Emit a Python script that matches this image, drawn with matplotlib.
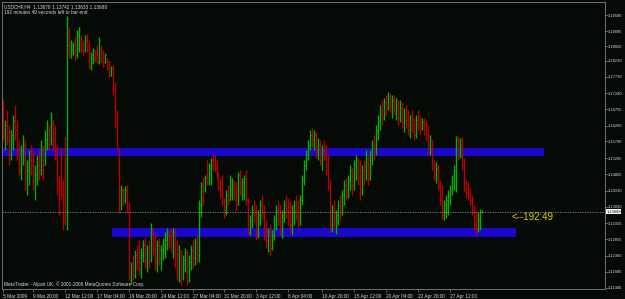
import matplotlib
matplotlib.use('Agg')
import matplotlib.pyplot as plt
import matplotlib.transforms as mtransforms
from matplotlib.patches import Rectangle
import numpy as np

# USDCHF H4 bars (one entry per bar)
opens = [
    1.1673, 1.1598, 1.1628, 1.1583, 1.1538, 1.1598, 1.1643, 1.1613, 1.1553, 1.1493,
    1.1553, 1.1568, 1.1463, 1.1493, 1.1523, 1.1508, 1.1463, 1.1478, 1.1508, 1.1493,
    1.1553, 1.1508, 1.1583, 1.1613, 1.1583, 1.1643, 1.1583, 1.1553, 1.1433, 1.1538,
    1.1418, 1.1553, 1.1358, 1.1898, 1.1838, 1.1853, 1.1883, 1.1838, 1.1859, 1.1889,
    1.1877, 1.1853, 1.1889, 1.1868, 1.1799, 1.1829, 1.1847, 1.1853, 1.1817, 1.1859,
    1.1838, 1.1817, 1.1823, 1.1817, 1.1778, 1.1799, 1.1733, 1.1643, 1.1553, 1.1388,
    1.1433, 1.1403, 1.1433, 1.1388, 1.1163, 1.1208, 1.1178, 1.1238, 1.1217, 1.1193,
    1.1238, 1.1268, 1.1217, 1.1253, 1.1223, 1.1313, 1.1253, 1.1217, 1.1268, 1.1229,
    1.1253, 1.1268, 1.1283, 1.1298, 1.1289, 1.1268, 1.1307, 1.1217, 1.1193, 1.1247,
    1.1169, 1.1223, 1.1247, 1.1163, 1.1217, 1.1253, 1.1229, 1.1277, 1.1238, 1.1388,
    1.1448, 1.1433, 1.1469, 1.1463, 1.1499, 1.1523, 1.1508, 1.1499, 1.1478, 1.1439,
    1.1418, 1.1403, 1.1373, 1.1418, 1.1403, 1.1418, 1.1448, 1.1409, 1.1388, 1.1478,
    1.1433, 1.1418, 1.1469, 1.1403, 1.1307, 1.1343, 1.1373, 1.1358, 1.1298, 1.1358,
    1.1388, 1.1358, 1.1298, 1.1283, 1.1307, 1.1259, 1.1298, 1.1343, 1.1373, 1.1349,
    1.1319, 1.1358, 1.1388, 1.1373, 1.1343, 1.1328, 1.1367, 1.1388, 1.1358, 1.1337,
    1.1403, 1.1463, 1.1508, 1.1538, 1.1568, 1.1598, 1.1583, 1.1598, 1.1553, 1.1568,
    1.1523, 1.1553, 1.1538, 1.1493, 1.1448, 1.1328, 1.1373, 1.1343, 1.1358, 1.1388,
    1.1373, 1.1418, 1.1448, 1.1433, 1.1463, 1.1493, 1.1448, 1.1508, 1.1523, 1.1469,
    1.1433, 1.1493, 1.1478, 1.1538, 1.1478, 1.1538, 1.1568, 1.1553, 1.1613, 1.1643,
    1.1673, 1.1649, 1.1697, 1.1679, 1.1715, 1.1688, 1.1703, 1.1673, 1.1688, 1.1649,
    1.1679, 1.1637, 1.1658, 1.1643, 1.1613, 1.1643, 1.1628, 1.1598, 1.1643, 1.1628,
    1.1619, 1.1637, 1.1613, 1.1598, 1.1547, 1.1583, 1.1508, 1.1478, 1.1499, 1.1448,
    1.1403, 1.1358, 1.1388, 1.1403, 1.1418, 1.1433, 1.1463, 1.1493, 1.1583, 1.1553,
    1.1568, 1.1508, 1.1439, 1.1427, 1.1418, 1.1403, 1.1373, 1.1337, 1.1319, 1.1343,
    1.13678,
]
highs = [
    1.1703, 1.1643, 1.1673, 1.1628, 1.1613, 1.1658, 1.1688, 1.1643, 1.1583, 1.1568,
    1.1598, 1.1583, 1.1523, 1.1553, 1.1568, 1.1553, 1.1508, 1.1538, 1.1553, 1.1583,
    1.1568, 1.1613, 1.1643, 1.1628, 1.1667, 1.1643, 1.1628, 1.1568, 1.1478, 1.1559,
    1.1463, 1.1592, 1.1955, 1.1919, 1.1883, 1.1877, 1.1892, 1.1913, 1.1922, 1.1898,
    1.1883, 1.1898, 1.1901, 1.1883, 1.1847, 1.1859, 1.1853, 1.1868, 1.1892, 1.1868,
    1.1853, 1.1844, 1.1829, 1.1823, 1.1805, 1.1808, 1.1757, 1.1673, 1.1559, 1.1448,
    1.1439, 1.1445, 1.1448, 1.1397, 1.1217, 1.1238, 1.1253, 1.1268, 1.1283, 1.1259,
    1.1283, 1.1289, 1.1268, 1.1283, 1.1334, 1.1319, 1.1298, 1.1283, 1.1289, 1.1268,
    1.1289, 1.1307, 1.1319, 1.1313, 1.1313, 1.1319, 1.1319, 1.1283, 1.1268, 1.1253,
    1.1238, 1.1259, 1.1253, 1.1238, 1.1268, 1.1283, 1.1289, 1.1298, 1.1403, 1.1457,
    1.1472, 1.1478, 1.1523, 1.1514, 1.1529, 1.1538, 1.1538, 1.1523, 1.1487, 1.1469,
    1.1478, 1.1409, 1.1433, 1.1448, 1.1478, 1.1469, 1.1463, 1.1457, 1.1487, 1.1493,
    1.1469, 1.1478, 1.1493, 1.1409, 1.1358, 1.1388, 1.1403, 1.1388, 1.1373, 1.1403,
    1.1418, 1.1388, 1.1343, 1.1319, 1.1328, 1.1313, 1.1358, 1.1388, 1.1403, 1.1388,
    1.1373, 1.1403, 1.1418, 1.1409, 1.1403, 1.1388, 1.1403, 1.1418, 1.1403, 1.1418,
    1.1478, 1.1523, 1.1553, 1.1583, 1.1613, 1.1619, 1.1613, 1.1607, 1.1589, 1.1583,
    1.1568, 1.1583, 1.1568, 1.1538, 1.1463, 1.1388, 1.1403, 1.1373, 1.1403, 1.1418,
    1.1433, 1.1463, 1.1469, 1.1478, 1.1508, 1.1499, 1.1523, 1.1538, 1.1529, 1.1523,
    1.1508, 1.1523, 1.1553, 1.1538, 1.1553, 1.1583, 1.1598, 1.1628, 1.1658, 1.1688,
    1.1703, 1.1709, 1.1718, 1.1727, 1.1724, 1.1718, 1.1718, 1.1709, 1.1703, 1.1703,
    1.1697, 1.1679, 1.1688, 1.1673, 1.1658, 1.1673, 1.1649, 1.1658, 1.1673, 1.1658,
    1.1649, 1.1649, 1.1643, 1.1628, 1.1598, 1.1583, 1.1523, 1.1517, 1.1508, 1.1463,
    1.1448, 1.1403, 1.1418, 1.1433, 1.1448, 1.1478, 1.1508, 1.1595, 1.1595, 1.1589,
    1.1592, 1.1529, 1.1463, 1.1457, 1.1439, 1.1418, 1.1388, 1.1373, 1.1367, 1.1376,
    1.13742,
]
lows = [
    1.1583, 1.1553, 1.1568, 1.1508, 1.1523, 1.1553, 1.1583, 1.1523, 1.1478, 1.1463,
    1.1508, 1.1433, 1.1418, 1.1448, 1.1478, 1.1433, 1.1403, 1.1448, 1.1463, 1.1478,
    1.1463, 1.1508, 1.1553, 1.1553, 1.1568, 1.1553, 1.1523, 1.1418, 1.1358, 1.1403,
    1.1313, 1.1328, 1.1313, 1.1829, 1.1829, 1.1838, 1.1823, 1.1829, 1.1847, 1.1844,
    1.1835, 1.1847, 1.1847, 1.1799, 1.1793, 1.1811, 1.1817, 1.1814, 1.1811, 1.1817,
    1.1802, 1.1814, 1.1793, 1.1772, 1.1775, 1.1718, 1.1619, 1.1553, 1.1364, 1.1373,
    1.1388, 1.1394, 1.1367, 1.1163, 1.1151, 1.1163, 1.1169, 1.1193, 1.1178, 1.1169,
    1.1217, 1.1199, 1.1187, 1.1199, 1.1217, 1.1238, 1.1193, 1.1187, 1.1208, 1.1193,
    1.1223, 1.1229, 1.1253, 1.1259, 1.1247, 1.1229, 1.1199, 1.1163, 1.1157, 1.1148,
    1.1163, 1.1187, 1.1148, 1.1157, 1.1193, 1.1199, 1.1208, 1.1217, 1.1217, 1.1352,
    1.1388, 1.1427, 1.1448, 1.1448, 1.1448, 1.1493, 1.1487, 1.1469, 1.1433, 1.1409,
    1.1388, 1.1349, 1.1358, 1.1388, 1.1403, 1.1403, 1.1403, 1.1373, 1.1388, 1.1418,
    1.1403, 1.1403, 1.1388, 1.1298, 1.1298, 1.1319, 1.1337, 1.1283, 1.1289, 1.1328,
    1.1343, 1.1283, 1.1259, 1.1247, 1.1238, 1.1253, 1.1283, 1.1313, 1.1328, 1.1298,
    1.1289, 1.1337, 1.1349, 1.1328, 1.1307, 1.1298, 1.1328, 1.1343, 1.1319, 1.1328,
    1.1388, 1.1448, 1.1493, 1.1523, 1.1553, 1.1559, 1.1553, 1.1529, 1.1523, 1.1508,
    1.1493, 1.1523, 1.1478, 1.1433, 1.1307, 1.1307, 1.1319, 1.1301, 1.1328, 1.1343,
    1.1358, 1.1388, 1.1403, 1.1409, 1.1433, 1.1418, 1.1433, 1.1463, 1.1448, 1.1403,
    1.1418, 1.1448, 1.1463, 1.1448, 1.1463, 1.1508, 1.1523, 1.1538, 1.1583, 1.1613,
    1.1628, 1.1643, 1.1658, 1.1673, 1.1667, 1.1649, 1.1658, 1.1643, 1.1628, 1.1637,
    1.1619, 1.1607, 1.1619, 1.1598, 1.1589, 1.1607, 1.1583, 1.1589, 1.1613, 1.1598,
    1.1613, 1.1598, 1.1583, 1.1538, 1.1538, 1.1493, 1.1463, 1.1454, 1.1433, 1.1388,
    1.1343, 1.1343, 1.1349, 1.1358, 1.1388, 1.1418, 1.1433, 1.1427, 1.1523, 1.1529,
    1.1493, 1.1427, 1.1409, 1.1403, 1.1388, 1.1358, 1.1313, 1.1298, 1.1307, 1.1313,
    1.13633,
]
closes = [
    1.1598, 1.1628, 1.1583, 1.1538, 1.1598, 1.1643, 1.1613, 1.1553, 1.1493, 1.1553,
    1.1568, 1.1463, 1.1493, 1.1523, 1.1508, 1.1463, 1.1478, 1.1508, 1.1493, 1.1553,
    1.1493, 1.1583, 1.1613, 1.1583, 1.1649, 1.1583, 1.1553, 1.1433, 1.1388, 1.1418,
    1.1343, 1.1358, 1.1868, 1.1838, 1.1868, 1.1868, 1.1829, 1.1898, 1.1913, 1.1853,
    1.1841, 1.1883, 1.1853, 1.1808, 1.1838, 1.1853, 1.1823, 1.1823, 1.1883, 1.1829,
    1.1808, 1.1838, 1.1799, 1.1778, 1.1799, 1.1733, 1.1628, 1.1568, 1.1388, 1.1433,
    1.1403, 1.1433, 1.1379, 1.1193, 1.1208, 1.1178, 1.1238, 1.1217, 1.1193, 1.1238,
    1.1268, 1.1217, 1.1253, 1.1217, 1.1319, 1.1253, 1.1217, 1.1268, 1.1229, 1.1253,
    1.1268, 1.1283, 1.1298, 1.1289, 1.1268, 1.1307, 1.1217, 1.1193, 1.1253, 1.1169,
    1.1223, 1.1247, 1.1163, 1.1217, 1.1253, 1.1229, 1.1277, 1.1253, 1.1388, 1.1448,
    1.1403, 1.1469, 1.1457, 1.1505, 1.1523, 1.1508, 1.1499, 1.1478, 1.1439, 1.1418,
    1.1403, 1.1358, 1.1418, 1.1397, 1.1463, 1.1448, 1.1409, 1.1388, 1.1478, 1.1433,
    1.1457, 1.1469, 1.1403, 1.1307, 1.1343, 1.1373, 1.1358, 1.1298, 1.1358, 1.1388,
    1.1358, 1.1298, 1.1283, 1.1307, 1.1253, 1.1298, 1.1343, 1.1373, 1.1349, 1.1319,
    1.1358, 1.1388, 1.1373, 1.1343, 1.1328, 1.1367, 1.1388, 1.1358, 1.1337, 1.1403,
    1.1463, 1.1508, 1.1538, 1.1568, 1.1598, 1.1583, 1.1598, 1.1553, 1.1568, 1.1523,
    1.1553, 1.1538, 1.1493, 1.1448, 1.1328, 1.1373, 1.1343, 1.1358, 1.1388, 1.1373,
    1.1418, 1.1448, 1.1433, 1.1463, 1.1493, 1.1448, 1.1508, 1.1523, 1.1469, 1.1433,
    1.1493, 1.1478, 1.1538, 1.1463, 1.1538, 1.1568, 1.1553, 1.1613, 1.1643, 1.1673,
    1.1649, 1.1697, 1.1679, 1.1715, 1.1688, 1.1703, 1.1673, 1.1688, 1.1649, 1.1679,
    1.1637, 1.1658, 1.1643, 1.1613, 1.1643, 1.1628, 1.1598, 1.1643, 1.1628, 1.1619,
    1.1637, 1.1613, 1.1598, 1.1553, 1.1583, 1.1508, 1.1478, 1.1499, 1.1448, 1.1403,
    1.1358, 1.1388, 1.1403, 1.1418, 1.1433, 1.1463, 1.1493, 1.1583, 1.1553, 1.1568,
    1.1508, 1.1439, 1.1427, 1.1418, 1.1403, 1.1373, 1.1337, 1.1319, 1.1343, 1.1367,
    1.13688,
]

price_labels = ['1.19580', '1.19095', '1.18650', '1.18210', '1.17730', '1.17240',
                '1.16755', '1.16260', '1.15790', '1.15285', '1.14805', '1.14310',
                '1.13830', '1.13335', '1.12855', '1.12360', '1.11880', '1.11400']
date_labels = ['5 Mar 2009', '9 Mar 20:00', '12 Mar 12:00', '17 Mar 04:00',
               '19 Mar 20:00', '24 Mar 12:00', '27 Mar 04:00', '31 Mar 20:00',
               '3 Apr 12:00', '8 Apr 04:00', '10 Apr 20:00', '15 Apr 12:00',
               '20 Apr 04:00', '22 Apr 20:00', '27 Apr 12:00']
date_bars = [0, 15, 31, 47, 63, 79, 95, 111, 127, 143, 160, 176, 192, 208, 224]

# support / resistance rectangles: (first bar, last bar, low price, high price)
zones = [(-0.5, 271, 1.1535, 1.1559),
         (54.6, 257, 1.1292, 1.1319)]

bid = 1.13688
timer_text = '<--192:49'
header_1 = 'USDCHF,H4  1.13678 1.13742 1.13633 1.13688'
header_2 = '192 minutes 49 seconds left to bar end'
copyright_text = 'MetaTrader - Alpari UK, \u00a9 2001-2008 MetaQuotes Software Corp.'

bg = '#050a07'
up_col = '#00b400'
dn_col = '#b80000'
axis_col = '#808080'
txt_col = '#d8d8d8'
small = 3.4
yfont = 2.9

plt.rcParams['font.family'] = ['Liberation Sans', 'DejaVu Sans']

fig = plt.figure(figsize=(6.25, 2.99), dpi=100, facecolor=bg)
ax = fig.add_axes([2 / 625, 10 / 299, 603 / 625, 287 / 299])
ax.set_facecolor(bg)

o = np.array(opens)
h = np.array(highs)
l = np.array(lows)
c = np.array(closes)
x = np.arange(len(o))
cols = np.where(c >= o, up_col, dn_col)

for x0, x1, p0, p1 in zones:
    ax.add_patch(Rectangle((x0, p0), x1 - x0, p1 - p0, facecolor='#1a06cc',
                           edgecolor='none', zorder=1))

ax.vlines(x, l, h, colors=cols, lw=0.95, zorder=2)
ax.hlines(o, x - 0.5, x, colors=cols, lw=0.6, zorder=2)
ax.hlines(c, x, x + 0.5, colors=cols, lw=0.6, zorder=2)

ax.axhline(bid, color='#8a8a8a', lw=0.6, ls=(0, (1.5, 1.5)), zorder=3)

ax.set_xlim(-0.5, 301.7)
ax.set_ylim(1.1137, 1.1997)

# price axis on the right
ax.yaxis.tick_right()
ax.set_yticks([float(v) for v in price_labels])
ax.set_yticklabels(price_labels)
ax.tick_params(axis='y', direction='out', length=1.8, width=0.5, color=axis_col,
               labelsize=yfont, labelcolor=txt_col, pad=0.5)

ax.set_xticks(date_bars)
ax.set_xticklabels(date_labels)
ax.tick_params(axis='x', direction='out', length=2.5, width=0.5, color=axis_col,
               labelsize=small, labelcolor=txt_col, pad=0.8)
for lab in ax.get_xticklabels():
    lab.set_ha('left')

for sp in ax.spines.values():
    sp.set_color(axis_col)
    sp.set_linewidth(0.6)

trans = mtransforms.blended_transform_factory(ax.transAxes, ax.transData)
ax.text(1.002, bid, '1.13688', transform=trans, fontsize=yfont, color='black',
        va='center', ha='left', zorder=5,
        bbox=dict(boxstyle='square,pad=0.12', fc='white', ec='none'), clip_on=False)

ax.text(254.6, 1.1352, timer_text, fontsize=7, color='#d2d200',
        va='center', ha='left', zorder=4)

ax.text(0.003, 0.993, header_1, transform=ax.transAxes, fontsize=small,
        color=txt_col, va='top', ha='left')
ax.text(0.003, 0.973, header_2, transform=ax.transAxes, fontsize=small,
        color=txt_col, va='top', ha='left')
ax.text(0.003, 0.006, copyright_text, transform=ax.transAxes, fontsize=small,
        color=txt_col, va='bottom', ha='left')

fig.savefig('out.png', dpi=100, facecolor=bg)
